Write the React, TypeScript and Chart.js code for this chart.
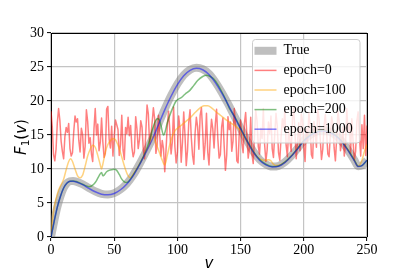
import React, { useEffect, useRef } from 'react';
import { Chart, registerables } from 'chart.js';

Chart.register(...registerables);

const W = 407;
const H = 271;

// ---- data ----
const xTicks = [0, 50, 100, 150, 200, 250];
const yTicks = [0, 5, 10, 15, 20, 25, 30];

const vTrue = [
  0, 2.5, 5, 7.5, 10, 12.5, 15, 17.5, 20, 25,
  30, 35, 40, 45, 50, 55, 60, 65, 70, 75,
  80, 85, 90, 95, 100, 105, 110, 115, 120, 125,
  130, 135, 140, 145, 150, 155, 160, 165, 170, 175,
  180, 185, 190, 195, 200, 205, 210, 215, 220, 225,
  230, 235, 240, 243, 246, 250,
];
const fTrue = [
  0, 2.3, 4.4, 6.0, 7.2, 7.9, 8.2, 8.25, 8.15, 7.75,
  7.2, 6.7, 6.35, 6.25, 6.45, 7.0, 7.85, 9.1, 10.7, 12.5,
  14.4, 16.6, 18.8, 20.8, 22.5, 23.8, 24.6, 24.9, 24.7, 24.0,
  22.8, 21.3, 19.6, 17.8, 16.0, 14.2, 12.6, 11.4, 10.7, 10.35,
  10.45, 11.0, 11.9, 13.0, 14.2, 15.0, 15.5, 15.7, 15.5, 15.0,
  14.1, 12.8, 11.3, 10.4, 10.5, 11.3,
];

const fBlue = [
  0, 2.3, 4.4, 6.0, 7.2, 7.9, 8.2, 8.2, 8.1, 7.7,
  7.15, 6.65, 6.3, 6.2, 6.4, 6.95, 7.8, 9.0, 10.6, 12.4,
  14.3, 16.5, 18.7, 20.7, 22.4, 23.7, 24.5, 24.8, 24.6, 23.9,
  22.7, 21.2, 19.5, 17.7, 15.9, 14.1, 12.5, 11.3, 10.6, 10.3,
  10.4, 10.95, 11.85, 12.95, 14.1, 14.9, 15.4, 15.6, 15.4, 14.9,
  14.0, 12.7, 11.2, 10.35, 10.5, 11.3,
];

const fRed = [
  18.5, 16.2, 12.1, 11.2, 12.9, 16.8, 18.9, 17.2, 14.1, 12.6,
  11.5, 14.8, 16.1, 15.4, 16.7, 13.0, 11.9, 12.4, 15.5, 17.8,
  16.9, 17.4, 14.2, 12.5, 16.0, 15.1, 11.6, 13.3, 18.7, 17.0,
  13.8, 14.6, 12.2, 11.1, 15.9, 18.9, 15.0, 16.6, 12.7, 13.9,
  17.5, 14.0, 11.7, 12.3, 18.8, 19.2, 14.4, 13.1, 16.3, 11.9,
  14.7, 17.2, 16.5, 15.8, 12.0, 13.6, 17.9, 12.8, 11.4, 16.1,
  15.2, 17.6, 14.9, 16.4, 13.2, 11.8, 12.5, 17.7, 15.9, 13.0,
  14.3, 17.1, 16.2, 12.9, 11.5, 15.4, 19.4, 18.1, 13.7, 14.9,
  16.8, 19.0, 17.4, 12.3, 13.6, 17.9, 15.1, 11.9, 14.2, 13.0,
  9.6, 12.8, 16.4, 18.5, 15.7, 12.2, 14.0, 19.1, 13.3, 10.9,
  12.4, 17.8, 16.1, 11.0, 13.9, 18.4, 15.0, 10.5, 12.7, 16.9,
  18.7, 14.6, 12.0, 10.7, 15.3, 17.6, 16.2, 12.9, 17.9, 19.0,
  15.5, 11.4, 13.8, 18.2, 12.5, 10.6, 14.7, 17.3, 15.9, 13.1,
  16.6, 18.8, 14.4, 11.6, 12.1, 16.2, 17.5, 13.4, 9.8, 12.0,
  17.7, 15.8, 16.9, 12.6, 14.1, 18.9, 16.4, 11.2, 10.9, 15.6,
  17.2, 13.8, 12.4, 16.7, 18.3, 14.9, 11.6, 13.2, 17.6, 12.1,
  10.8, 15.0, 18.6, 17.1, 13.3, 12.2, 16.0, 14.5, 18.9, 13.6,
  11.1, 12.8, 16.9, 15.2, 17.8, 13.0, 11.7, 15.1, 18.2, 16.3,
  12.4, 11.3, 14.6, 17.4, 16.1, 18.7, 13.5, 11.8, 15.7, 14.2,
  12.6, 17.3, 19.0, 15.4, 11.5, 13.9, 16.8, 12.7, 18.1, 17.2,
  13.4, 11.1, 15.9, 14.0, 18.3, 16.5, 12.1, 11.6, 17.0, 15.3,
  13.2, 18.8, 17.5, 14.4, 11.4, 12.9, 16.3, 18.0, 15.6, 12.2,
  11.8, 15.0, 17.7, 16.6, 13.1, 11.2, 14.5, 18.5, 17.0, 12.7,
  14.1, 16.2, 11.9, 13.6, 18.9, 15.5, 16.8, 12.3, 17.4, 14.0,
  11.3, 12.6, 17.1, 18.4, 14.8, 11.9, 16.5, 13.0, 17.9, 12.0,
  16.4,
];

const vOrange = [
  0, 2, 4, 6, 8, 10, 12, 14, 15.5, 17,
  19, 21, 23, 25, 27, 29, 31, 33, 35, 37,
  39, 40, 41, 43, 45, 47, 49, 51, 53, 55,
  57, 59, 61, 63, 65, 70, 75, 78, 81, 83,
  86, 88, 90, 92, 94, 96, 98, 100, 103, 106,
  110, 114, 118, 121, 124, 127, 130, 134, 138, 142,
  146, 150, 153, 156, 160, 163, 166, 169, 172, 174,
  176, 179, 185, 190, 195, 200, 205, 210, 215, 220,
  225, 230, 235, 240, 243, 246, 248, 250,
];
const fOrange = [
  0.3, 3.8, 5.6, 6.9, 7.7, 8.5, 9.9, 11.1, 11.5, 11.1,
  10.0, 9.0, 8.7, 9.1, 10.4, 11.9, 12.9, 13.5, 13.2, 12.0,
  10.6, 10.0, 10.7, 12.5, 13.6, 14.2, 14.5, 14.3, 13.5, 12.4,
  11.1, 9.9, 9.0, 8.7, 9.2, 10.7, 12.5, 13.6, 14.8, 13.8,
  12.3, 11.3, 10.6, 12.0, 13.6, 14.8, 15.6, 16.0, 16.4, 16.9,
  17.5, 18.3, 19.0, 19.3, 19.3, 19.0, 18.5, 17.9, 17.3, 16.8,
  16.3, 15.6, 14.6, 13.7, 12.5, 11.8, 11.4, 11.3, 11.35, 11.2,
  10.7, 10.5, 11.0, 11.9, 13.0, 14.2, 15.0, 15.5, 15.7, 15.5,
  15.0, 14.1, 12.8, 11.3, 10.4, 11.3, 12.6, 13.6,
];

const vGreen = [
  0, 2.5, 5, 7.5, 10, 12.5, 15, 17.5, 20, 25,
  28, 30, 32, 34, 36, 38, 40, 41, 42, 44,
  46, 48, 50, 52, 54, 56, 58, 60, 62, 65,
  70, 75, 78, 81, 84, 85.5, 87, 89, 90, 92,
  95, 99, 103, 106, 110, 113, 116, 120, 123, 126,
  129, 132, 135, 138, 141, 145, 150, 155, 160, 165,
  170, 175, 180, 185, 190, 195, 200, 205, 210, 215,
  220, 225, 230, 235, 240, 243, 246, 250,
];
const fGreen = [
  0, 2.3, 4.4, 6.0, 7.2, 7.9, 8.2, 8.25, 8.15, 7.75,
  7.5, 7.4, 7.5, 7.8, 8.3, 9.0, 9.5, 9.0, 9.1, 9.6,
  9.8, 9.9, 9.95, 9.8, 9.2, 8.5, 8.1, 8.0, 8.3, 9.1,
  10.7, 12.6, 14.2, 16.3, 17.4, 17.3, 16.4, 15.0, 15.3, 16.8,
  18.4, 20.0, 20.5, 21.0, 21.6, 22.3, 23.0, 23.6, 23.8, 23.6,
  23.2, 22.4, 21.4, 20.3, 19.0, 17.8, 16.0, 14.2, 12.6, 11.4,
  10.7, 10.35, 10.45, 11.0, 11.9, 13.0, 14.2, 15.0, 15.5, 15.7,
  15.5, 15.0, 14.1, 12.8, 11.3, 10.4, 10.5, 11.3,
];

const seriesLabels = ['True', 'epoch=0', 'epoch=100', 'epoch=200', 'epoch=1000'];
const seriesColors = [
  'rgba(128,128,128,0.5)',
  'rgba(255,0,0,0.5)',
  'rgba(255,165,0,0.5)',
  'rgba(0,128,0,0.5)',
  'rgba(0,0,255,0.5)',
];
const seriesWidths = [8, 1.5, 1.5, 1.5, 1.5];

const pts = (xs: number[], ys: number[]) => xs.map((x, i) => ({ x, y: ys[i] }));

const SERIF = "'Liberation Serif', 'Times New Roman', serif";
const SANS = "'DejaVu Sans', sans-serif";

const decorPlugin = {
  id: 'decor',
  afterDraw(chart: any) {
    const { ctx, chartArea } = chart;
    const { left, right, top, bottom } = chartArea;
    ctx.save();
    // top & right spines
    ctx.strokeStyle = '#000';
    ctx.lineWidth = 1;
    ctx.beginPath();
    ctx.moveTo(left, Math.round(top) + 0.5);
    ctx.lineTo(right + 0.5, Math.round(top) + 0.5);
    ctx.moveTo(Math.round(right) + 0.5, top);
    ctx.lineTo(Math.round(right) + 0.5, bottom);
    ctx.stroke();

    // x title
    ctx.fillStyle = '#000';
    ctx.font = `italic 15px ${SANS}`;
    ctx.textAlign = 'center';
    ctx.textBaseline = 'alphabetic';
    ctx.fillText('v', (left + right) / 2, 268);

    // y title: F_1(v)
    ctx.save();
    ctx.translate(26, (top + bottom) / 2 + 2);
    ctx.rotate(-Math.PI / 2);
    ctx.textAlign = 'left';
    ctx.textBaseline = 'alphabetic';
    const parts: [string, string, number][] = [
      ['F', `italic 15px ${SANS}`, 0],
      ['1', `10.5px ${SANS}`, 3],
      ['(', `15px ${SANS}`, 0],
      ['v', `italic 15px ${SANS}`, 0],
      [')', `15px ${SANS}`, 0],
    ];
    let total = 0;
    for (const [t, f] of parts) {
      ctx.font = f;
      total += ctx.measureText(t).width;
    }
    let x = -total / 2;
    for (const [t, f, dy] of parts) {
      ctx.font = f;
      ctx.fillText(t, x, dy);
      x += ctx.measureText(t).width;
    }
    ctx.restore();

    // legend
    const bx = 252.5, by = 39.5, bw = 107.5, bh = 103.5, r = 3;
    ctx.beginPath();
    ctx.moveTo(bx + r, by);
    ctx.lineTo(bx + bw - r, by);
    ctx.arcTo(bx + bw, by, bx + bw, by + r, r);
    ctx.lineTo(bx + bw, by + bh - r);
    ctx.arcTo(bx + bw, by + bh, bx + bw - r, by + bh, r);
    ctx.lineTo(bx + r, by + bh);
    ctx.arcTo(bx, by + bh, bx, by + bh - r, r);
    ctx.lineTo(bx, by + r);
    ctx.arcTo(bx, by, bx + r, by, r);
    ctx.closePath();
    ctx.fillStyle = 'rgba(255,255,255,0.8)';
    ctx.fill();
    ctx.strokeStyle = '#cccccc';
    ctx.lineWidth = 1;
    ctx.stroke();

    ctx.font = `14px ${SERIF}`;
    ctx.textAlign = 'left';
    ctx.textBaseline = 'middle';
    seriesLabels.forEach((lab, i) => {
      const y = 50.8 + i * 19.6;
      ctx.strokeStyle = seriesColors[i];
      ctx.lineWidth = seriesWidths[i];
      ctx.lineCap = 'butt';
      ctx.beginPath();
      ctx.moveTo(254.5, y);
      ctx.lineTo(276.5, y);
      ctx.stroke();
      ctx.fillStyle = '#000';
      ctx.fillText(lab, 283.5, y);
    });
    ctx.restore();
  },
};

export default function App() {
  const ref = useRef<HTMLCanvasElement>(null);

  useEffect(() => {
    document.body.style.margin = '0';
    const canvas = ref.current;
    if (!canvas) return;
    const vRed = fRed.map((_, i) => i);
    const lineDs = (i: number, data: { x: number; y: number }[], order: number, smooth: boolean) => ({
      label: seriesLabels[i],
      data,
      borderColor: seriesColors[i],
      backgroundColor: seriesColors[i],
      borderWidth: seriesWidths[i],
      pointRadius: 0,
      fill: false,
      order,
      tension: 0,
      cubicInterpolationMode: smooth ? 'monotone' : 'default',
      borderCapStyle: 'butt',
      borderJoinStyle: 'round',
    });

    const gridColor = '#c4c4c4';
    const chart = new Chart(canvas, {
      type: 'line',
      data: {
        datasets: [
          lineDs(0, pts(vTrue, fTrue), 5, true),
          lineDs(1, pts(vRed, fRed), 4, false),
          lineDs(2, pts(vOrange, fOrange), 3, true),
          lineDs(3, pts(vGreen, fGreen), 2, true),
          lineDs(4, pts(vTrue, fBlue), 1, true),
        ] as any,
      },
      options: {
        responsive: false,
        animation: false,
        devicePixelRatio: 1,
        layout: { padding: { left: 0, right: 40, top: 33, bottom: 0 } },
        plugins: { legend: { display: false }, tooltip: { enabled: false } },
        scales: {
          x: {
            type: 'linear',
            min: xTicks[0],
            max: xTicks[xTicks.length - 1],
            afterBuildTicks: (s: any) => { s.ticks = xTicks.map((v) => ({ value: v })); },
            afterFit: (s: any) => { s.height = 34; },
            ticks: { font: { family: SERIF, size: 14 }, color: '#000', padding: 1, maxRotation: 0, autoSkip: false },
            grid: { color: gridColor, lineWidth: 1.2, tickColor: '#000', tickLength: 4, tickWidth: 1 },
            border: { color: '#000', width: 1 },
          },
          y: {
            type: 'linear',
            min: yTicks[0],
            max: yTicks[yTicks.length - 1],
            afterBuildTicks: (s: any) => { s.ticks = yTicks.map((v) => ({ value: v })); },
            afterFit: (s: any) => { s.width = 51; },
            ticks: { font: { family: SERIF, size: 14 }, color: '#000', padding: 3, autoSkip: false },
            grid: { color: gridColor, lineWidth: 1.2, tickColor: '#000', tickLength: 4, tickWidth: 1 },
            border: { color: '#000', width: 1 },
          },
        },
      },
      plugins: [decorPlugin],
    } as any);
    return () => chart.destroy();
  }, []);

  return (
    <div style={{ width: W, height: H }}>
      <canvas ref={ref} width={W} height={H} style={{ display: 'block', width: W, height: H }} />
    </div>
  );
}
